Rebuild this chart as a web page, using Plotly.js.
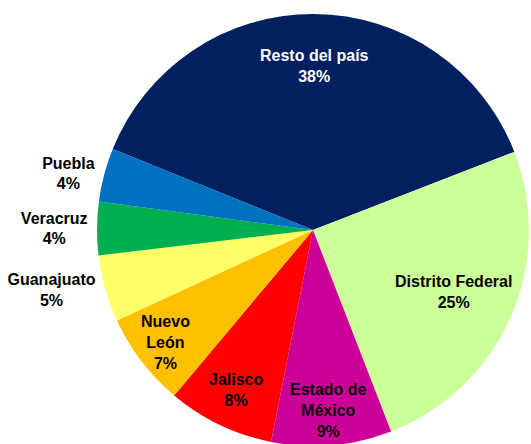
<!DOCTYPE html>
<html><head><meta charset="utf-8">
<script src="https://cdn.plot.ly/plotly-3.0.1.min.js"></script>
<style>html,body{margin:0;padding:0;overflow:hidden;background:#fff}</style>
</head><body><div id="chart"></div>
<script>
var labels = ["Resto del país","Distrito Federal","Estado de<br>México","Jalisco","Nuevo<br>León","Guanajuato","Veracruz","Puebla"];
var values = [38, 25, 9, 8, 7, 5, 4, 4];
var colors = ["#002060","#CCFF99","#CC0099","#FF0000","#FFC000","#FFFF66","#00B050","#0070C0"];
var textColors = ["#ffffff","#000000","#000000","#000000","#000000","#000000","#000000","#000000"];
var positions = ["none","none","none","none","none","outside","outside","outside"];
// radial placement (fraction of radius) of the in-slice labels
var labelRadius = [0.76, 0.71, 0.84, 0.82, 0.86, 0, 0, 0];

var W = 531, H = 460;
var ROT = -68;
var dom = {x: [97/W, 529/W], y: [(H-446)/H, (H-14)/H]};
var FONT = "Liberation Sans, Arial, sans-serif";

// geometry of the pie (from its domain) to place in-slice labels along each slice's mid angle
var cx = (dom.x[0] + dom.x[1]) / 2 * W;
var cy = (1 - (dom.y[0] + dom.y[1]) / 2) * H;
var R = Math.min((dom.x[1] - dom.x[0]) * W, (dom.y[1] - dom.y[0]) * H) / 2;
var total = values.reduce(function(a, b){ return a + b; }, 0);
var annotations = [];
var acc = 0;
values.forEach(function(v, i){
  var mid = (ROT + (acc + v / 2) / total * 360) * Math.PI / 180;
  acc += v;
  if (positions[i] !== "none") return;
  var px = cx + labelRadius[i] * R * Math.sin(mid);
  var py = cy - labelRadius[i] * R * Math.cos(mid);
  annotations.push({
    xref: "paper", yref: "paper", x: px / W, y: 1 - py / H,
    xanchor: "center", yanchor: "middle", showarrow: false,
    text: labels[i] + "<br>" + v + "%",
    font: {family: FONT, size: 16, color: textColors[i], weight: "bold"}
  });
});

var data = [{
  type: "pie",
  labels: labels,
  values: values,
  sort: false,
  direction: "clockwise",
  rotation: ROT,
  marker: {colors: colors, line: {width: 0}},
  texttemplate: "%{label}<br>%{value}%",
  textposition: positions,
  textfont: {family: FONT, size: 16, color: textColors, weight: "bold"},
  outsidetextfont: {family: FONT, size: 16, color: "#000000", weight: "bold"},
  hoverinfo: "none",
  showlegend: false,
  domain: dom
}];
var layout = {
  width: W, height: H,
  margin: {l: 0, r: 0, t: 0, b: 0},
  paper_bgcolor: "#ffffff",
  showlegend: false,
  annotations: annotations
};
Plotly.newPlot("chart", data, layout, {displayModeBar: false, staticPlot: true});
</script></body></html>
